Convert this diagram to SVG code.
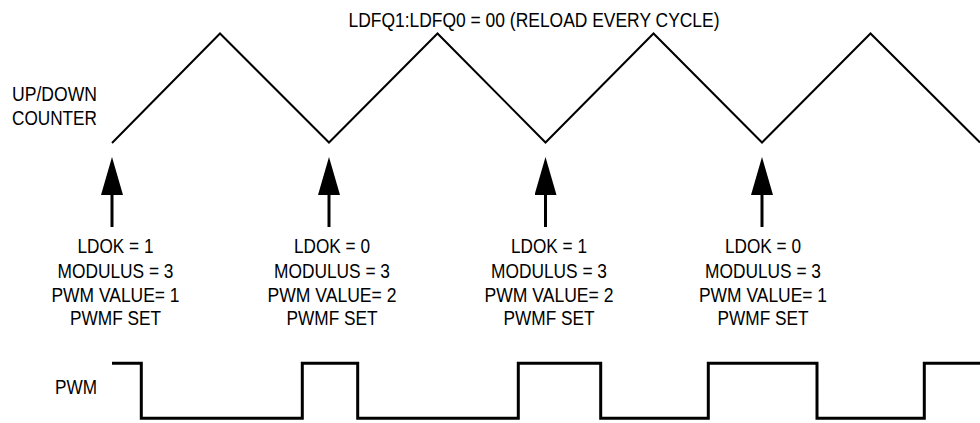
<svg xmlns="http://www.w3.org/2000/svg" width="980" height="423" viewBox="0 0 980 423">
<style>
text{font-family:"Liberation Sans",Arial,Helvetica,sans-serif;font-size:20px;fill:#000}
.c{text-anchor:middle}
.wave{fill:none;stroke:#000;stroke-width:2;stroke-linejoin:miter}
.pwm{fill:none;stroke:#000;stroke-width:3;stroke-linejoin:miter}
.shaft{stroke:#000;stroke-width:3}
</style>
<defs>
<marker id="ah" markerUnits="userSpaceOnUse" markerWidth="38" markerHeight="22" refX="1" refY="11" orient="auto" viewBox="0 0 38 22">
<path d="M0,0 L38,11 L0,22 Z" fill="#000"/>
</marker>
</defs>
<g id="title"><text class="c" x="534" y="26.5" textLength="371" lengthAdjust="spacingAndGlyphs">LDFQ1:LDFQ0 = 00 (RELOAD EVERY CYCLE)</text></g>
<g id="counter-label">
<text x="12" y="101" textLength="85" lengthAdjust="spacingAndGlyphs">UP/DOWN</text>
<text x="12" y="124.5" textLength="85" lengthAdjust="spacingAndGlyphs">COUNTER</text>
</g>
<g id="counter-wave"><polyline class="wave" points="112,143 220,33.5 329,142.5 437.5,33.5 545.5,142.5 653.5,33.5 762,142.5 870.5,33.5 980,142.5"/></g>
<g id="connectors">
<line class="shaft" x1="112" y1="227" x2="112" y2="194" marker-end="url(#ah)"/>
<line class="shaft" x1="329" y1="227" x2="329" y2="194" marker-end="url(#ah)"/>
<line class="shaft" x1="545.5" y1="227" x2="545.5" y2="194" marker-end="url(#ah)"/>
<line class="shaft" x1="762" y1="227" x2="762" y2="194" marker-end="url(#ah)"/>
</g>
<g id="event1">
<text class="c" x="115.5" y="253.3" textLength="76" lengthAdjust="spacingAndGlyphs">LDOK = 1</text>
<text class="c" x="115.5" y="277.5" textLength="116" lengthAdjust="spacingAndGlyphs">MODULUS = 3</text>
<text class="c" x="115.5" y="301.5" textLength="128" lengthAdjust="spacingAndGlyphs">PWM VALUE= 1</text>
<text class="c" x="115.5" y="325" textLength="91" lengthAdjust="spacingAndGlyphs">PWMF SET</text>
</g>
<g id="event2">
<text class="c" x="332" y="253.3" textLength="76" lengthAdjust="spacingAndGlyphs">LDOK = 0</text>
<text class="c" x="332" y="277.5" textLength="116" lengthAdjust="spacingAndGlyphs">MODULUS = 3</text>
<text class="c" x="332" y="301.5" textLength="129" lengthAdjust="spacingAndGlyphs">PWM VALUE= 2</text>
<text class="c" x="332" y="325" textLength="91" lengthAdjust="spacingAndGlyphs">PWMF SET</text>
</g>
<g id="event3">
<text class="c" x="549" y="253.3" textLength="76" lengthAdjust="spacingAndGlyphs">LDOK = 1</text>
<text class="c" x="549" y="277.5" textLength="116" lengthAdjust="spacingAndGlyphs">MODULUS = 3</text>
<text class="c" x="549" y="301.5" textLength="129" lengthAdjust="spacingAndGlyphs">PWM VALUE= 2</text>
<text class="c" x="549" y="325" textLength="91" lengthAdjust="spacingAndGlyphs">PWMF SET</text>
</g>
<g id="event4">
<text class="c" x="763" y="253.3" textLength="76" lengthAdjust="spacingAndGlyphs">LDOK = 0</text>
<text class="c" x="763" y="277.5" textLength="116" lengthAdjust="spacingAndGlyphs">MODULUS = 3</text>
<text class="c" x="763" y="301.5" textLength="128" lengthAdjust="spacingAndGlyphs">PWM VALUE= 1</text>
<text class="c" x="763" y="325" textLength="91" lengthAdjust="spacingAndGlyphs">PWMF SET</text>
</g>
<g id="pwm-label"><text x="55" y="394" textLength="42" lengthAdjust="spacingAndGlyphs">PWM</text></g>
<g id="pwm-wave"><polyline class="pwm" points="112,363.3 141.3,363.3 141.3,418.3 302.3,418.3 302.3,363.3 357.7,363.3 357.7,418.3 518.3,418.3 518.3,363.3 600.7,363.3 600.7,418.3 708.3,418.3 708.3,363.3 817,363.3 817,418.3 924.3,418.3 924.3,363.3 980,363.3"/></g>
</svg>
